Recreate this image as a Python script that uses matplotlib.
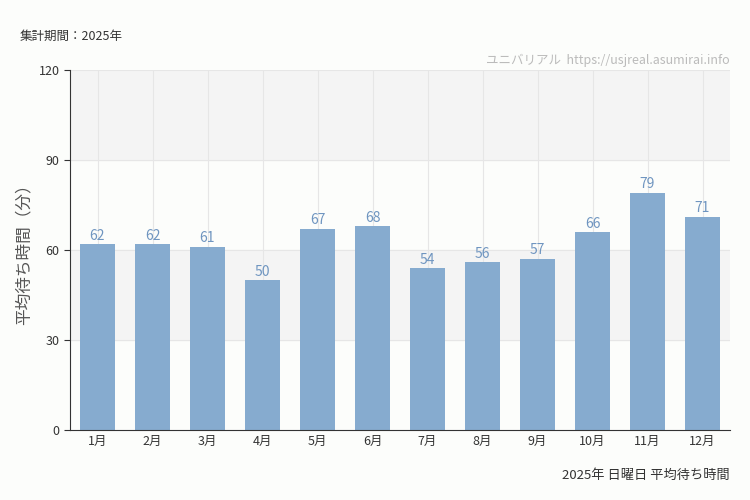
import matplotlib
matplotlib.use("Agg")
import matplotlib.pyplot as plt

plt.rcParams['font.family'] = ['Noto Sans CJK JP', 'DejaVu Sans']

months = ['1月','2月','3月','4月','5月','6月','7月','8月','9月','10月','11月','12月']
values = [62, 62, 61, 50, 67, 68, 54, 56, 57, 66, 79, 71]
yticks = [0, 30, 60, 90, 120]

bg = '#fcfdfb'
fig = plt.figure(figsize=(7.5, 5), dpi=100, facecolor=bg)
ax = fig.add_axes([70/750, 70/500, 660/750, 360/500])
ax.set_facecolor(bg)
ax.axhspan(90, 120, color='#f4f4f4', zorder=0)
ax.axhspan(30, 60, color='#f4f4f4', zorder=0)
for y in [30, 60, 90, 120]:
    ax.axhline(y, color='#e6e6e6', lw=0.8, zorder=0.5)
x = list(range(len(months)))
for xi in x:
    ax.axvline(xi, color='#e6e6e6', lw=0.8, zorder=0.5)
bars = ax.bar(x, values, width=0.65, color='#86abcf', zorder=2)
for xi, v in zip(x, values):
    ax.text(xi, v + 0.5, str(v), ha='center', va='bottom', color='#6f95c0', fontsize=10, zorder=3)
ax.set_xlim(-0.5, len(months) - 0.5)
ax.set_ylim(0, 120)
ax.set_yticks(yticks)
ax.set_xticks(x)
ax.set_xticklabels(months)
ax.tick_params(labelsize=9, colors='#333333', length=4)
ax.tick_params(axis='x', length=0)
for s in ['top', 'right']:
    ax.spines[s].set_visible(False)
ax.spines['left'].set_color('#333333')
ax.spines['bottom'].set_color('#333333')
ax.set_ylabel('平均待ち時間（分）', fontsize=12, color='#555555')
fig.text(20/750, 1 - 36/500, '集計期間：2025年', fontsize=9, color='#333333', va='center')
fig.text(730/750, 1 - 60/500, 'ユニバリアル  https://usjreal.asumirai.info', fontsize=9, color='#bbbbbb', ha='right', va='center')
fig.text(730/750, 1 - 475/500, '2025年 日曜日 平均待ち時間', fontsize=9.5, color='#333333', ha='right', va='center')
fig.savefig('out.png', dpi=100, facecolor=bg)
